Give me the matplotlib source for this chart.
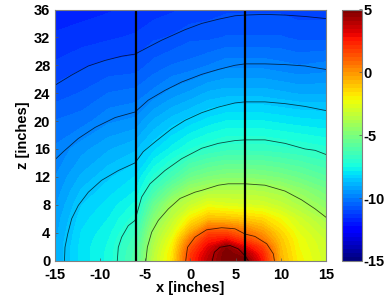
import matplotlib
matplotlib.use("Agg")
import matplotlib.pyplot as plt
import numpy as np
from matplotlib.cm import ScalarMappable
from matplotlib.colors import Normalize

plt.rcParams['font.family'] = ['Liberation Sans', 'DejaVu Sans']
plt.rcParams['font.weight'] = 'bold'
plt.rcParams['axes.unicode_minus'] = False

# field, one list per x column, values at z_grid
z_grid = [0, 1, 2, 3, 4, 6, 8, 10, 12, 16, 20, 24, 28, 32, 36]
x_grid = [-15, -12, -9, -6, -4, -2, 0, 2, 4, 6, 8, 10, 12, 15]
col_m15 = [-9.1, -9.1, -9.1, -9.15, -9.2, -9.3, -9.45, -9.6, -9.7, -9.95, -10.3, -10.8, -11.2, -11.5, -11.8]
col_m12 = [-8, -8, -8, -8.05, -8.1, -8.25, -8.45, -8.7, -9, -9.5, -10.15, -10.6, -11, -11.4, -11.7]
col_m9 = [-7.4, -7.4, -7.45, -7.5, -7.6, -7.8, -8, -8.25, -8.5, -9.1, -9.75, -10.3, -10.85, -11.3, -11.6]
col_m6 = [-6, -6.1, -6.2, -6.4, -6.6, -7, -7.4, -7.8, -8.1, -8.8, -9.6, -10.2, -10.8, -11.2, -11.5]
col_m4 = [-3.4, -3.5, -3.7, -3.9, -4.1, -4.8, -5.5, -6.4, -7.1, -8.2, -9, -9.9, -10.5, -11, -11.4]
col_m2 = [-1.7, -1.8, -2, -2.3, -2.7, -3.4, -4, -5.2, -6.3, -7.7, -8.6, -9.55, -10.3, -10.9, -11.3]
col_0 = [2, 1.8, 1.3, 0.6, -0.4, -1.9, -3.2, -4.2, -5.4, -7.2, -8.3, -9.3, -10.2, -10.7, -11.2]
col_2 = [3.9, 3.6, 3.1, 2.4, 1.6, -0.9, -2.5, -3.8, -5, -6.9, -8, -9, -10, -10.7, -11.1]
col_4 = [5, 5, 4.6, 2.8, 1.6, -1, -2.7, -3.7, -4.8, -6.7, -7.8, -8.9, -9.8, -10.6, -11]
col_6 = [5, 4.2, 3, 1.8, 0.8, -1.2, -2.8, -3.7, -4.8, -6.7, -7.8, -8.9, -9.8, -10.6, -11]
col_8 = [2.6, 2.3, 1.7, 0.6, -0.1, -1.5, -2.9, -3.8, -4.9, -6.7, -7.8, -8.9, -9.8, -10.6, -11]
col_10 = [-0.7, -0.8, -0.9, -1.1, -1.4, -2.2, -3.3, -4, -5.1, -6.8, -7.9, -9, -9.9, -10.6, -11]
col_12 = [-2, -2.1, -2.2, -2.3, -2.5, -3, -3.8, -4.5, -5.4, -6.9, -8, -9.1, -10, -10.7, -11.1]
col_15 = [-3, -3.05, -3.1, -3.2, -3.4, -3.95, -4.6, -5.2, -5.9, -7.1, -8.1, -9.1, -9.9, -10.7, -11.1]

# contour lines (x, z)
c1_x = [-15, -13.1, -11.26, -9.4, -7.58, -6.1, -4.64, -3.15, -0.58, 1.27, 3.1, 4.94, 6.05, 8.26, 10.47, 12.68, 15]
c1_z = [25.1, 26.6, 27.9, 28.7, 29.3, 29.6, 30.6, 31.6, 33.1, 34, 34.6, 35.1, 35.2, 35.3, 35.2, 35, 34.7]
c2_x = [-15, -14.03, -12.37, -10.5, -8.3, -6.1, -4.64, -2.8, -0.95, 1.27, 3.1, 4.94, 6.05, 8.26, 10.47, 12.68, 15]
c2_z = [14.4, 15.6, 17.5, 19.1, 20.5, 21.3, 23, 24.4, 25.6, 26.7, 27.4, 28, 28.2, 28.2, 28.1, 27.9, 27.4]
c3_x = [-13.9, -13.84, -13.54, -13.1, -12.37, -11.26, -9.8, -7.95, -6.1, -5.2, -3.9, -2.05, -0.58, 1.27, 3.1, 4.94, 6.05, 8.26, 10.47, 12.68, 15]
c3_z = [0, 1.9, 3.8, 6, 7.9, 9.8, 11.5, 12.9, 14, 15.6, 17, 18.9, 20.1, 21.2, 22, 22.6, 22.75, 22.75, 22.5, 22.1, 21.5]
c4_x = [-8.06, -7.95, -7.58, -6.85, -6.1, -5.9, -5.37, -4.45, -2.8, -0.95, 1.27, 3.1, 4.94, 6.05, 8.26, 10.47, 12.68, 13.8, 15]
c4_z = [0, 1.9, 3.35, 5, 5.75, 6.7, 9.1, 11, 12.9, 14.6, 16.1, 16.8, 17.2, 17.3, 17.3, 16.8, 16, 15.8, 15.2]
c5_x = [-4.9, -4.74, -4.26, -3.53, -2.42, -1.13, 0.52, 1.27, 3.1, 4.2, 6.05, 8.26, 10.47, 12.3, 13.8, 15]
c5_z = [0, 1.9, 4.07, 5.75, 7.4, 8.9, 9.8, 10.06, 10.8, 11, 11, 10.8, 9.96, 8.7, 7.4, 6.2]
c6_x = [-0.5, -0.3, 0.52, 1.8, 3.47, 4.94, 6.05, 7.15, 8.45, 9.18, 9.3]
c6_z = [0, 1.9, 3.35, 4.4, 4.7, 4.55, 3.8, 3.45, 2.4, 0.96, 0]
c7_x = [2.44, 2.66, 3.29, 4.39, 5.3, 6.05, 6.4]
c7_z = [0, 1.2, 1.9, 2.15, 1.68, 0.7, 0]

barrier_x = [-6, 6]
x_ticks = [-15, -10, -5, 0, 5, 10, 15]
z_ticks = [0, 4, 8, 12, 16, 20, 24, 28, 32, 36]
cbar_ticks = [-15, -10, -5, 0, 5]

field = np.array([col_m15, col_m12, col_m9, col_m6, col_m4, col_m2, col_0, col_2,
                  col_4, col_6, col_8, col_10, col_12, col_15]).T

W, H = 387, 301
fig = plt.figure(figsize=(W / 100, H / 100), dpi=100)
ax = fig.add_axes([54.5 / W, 1 - 260.5 / H, 271.5 / W, 251 / H])
cmap = plt.get_cmap('jet', 64)

ax.contourf(x_grid, z_grid, field, levels=np.linspace(-15, 5, 65), cmap=cmap,
            vmin=-15, vmax=5, antialiased=False)

lines = [(c1_x, c1_z), (c2_x, c2_z), (c3_x, c3_z), (c4_x, c4_z),
         (c5_x, c5_z), (c6_x, c6_z), (c7_x, c7_z)]
for cx, cz in lines:
    ax.plot(cx, cz, color='black', lw=0.6, alpha=0.7)
for bx in barrier_x:
    ax.plot([bx, bx], [0, 36], color='black', lw=1.6, solid_capstyle='butt')

ax.set_xlim(-15, 15)
ax.set_ylim(0, 36)
ax.set_xticks(x_ticks)
ax.set_yticks(z_ticks)
ax.tick_params(axis='x', direction='in', length=2, width=0.5, color='#555555', labelsize=10.5, pad=5.5)
ax.tick_params(axis='y', direction='in', length=2, width=0.5, color='#555555', labelsize=10.5, pad=3)
for s in ax.spines.values():
    s.set_color('#808080')
    s.set_linewidth(0.8)
ax.set_xlabel('x [inches]', fontsize=10.5, fontweight='bold', labelpad=-0.5)
ax.set_ylabel('z [inches]', fontsize=10.5, fontweight='bold', labelpad=2.5)

cax = fig.add_axes([341.5 / W, 1 - 261 / H, 20.5 / W, 251.5 / H])
cb = fig.colorbar(ScalarMappable(Normalize(-15, 5), cmap), cax=cax)
cb.set_ticks(cbar_ticks)
cb.ax.tick_params(direction='in', length=2, width=0.5, color='#555555', labelsize=10.5, pad=1)
cb.outline.set_edgecolor('#808080')
cb.outline.set_linewidth(0.8)

fig.savefig('out.png', dpi=100)
